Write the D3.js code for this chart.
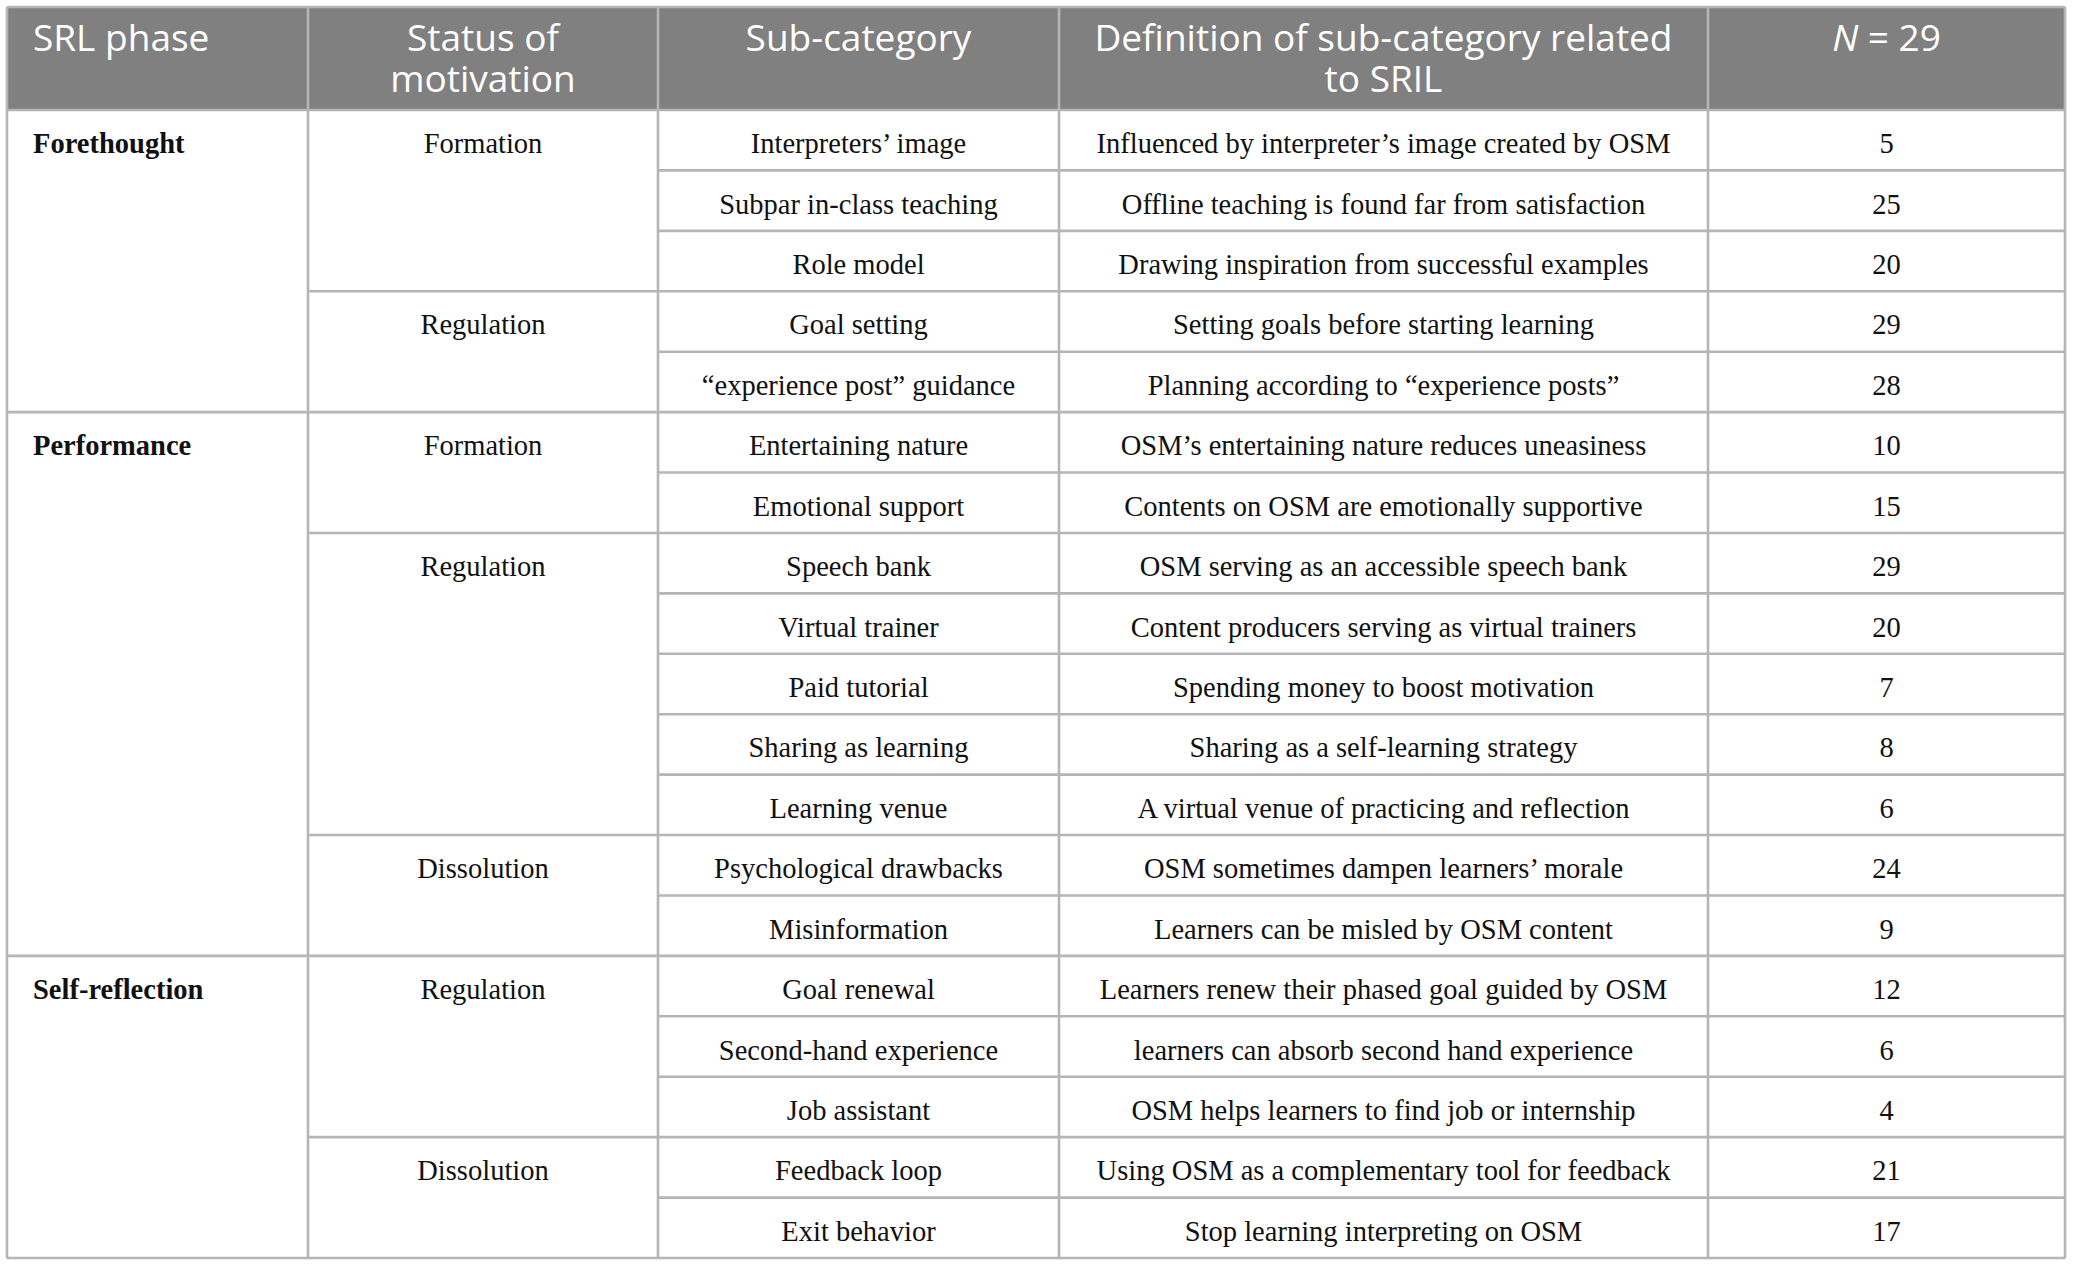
<!DOCTYPE html>
<html>
<head>
<meta charset="utf-8">
<script src="https://cdn.jsdelivr.net/npm/d3@7"></script>
<style>
  html, body { margin: 0; padding: 0; background: #ffffff; }
  svg { display: block; }
</style>
</head>
<body>
<svg id="chart" width="2073" height="1266"></svg>
<script>
// ---------- data ----------
const headers = ["SRL phase", "Status of\nmotivation", "Sub-category", "Definition of sub-category related\nto SRIL", "N = 29"];

const phaseLabels = ["Forethought", "Performance", "Self-reflection"];
const phaseRows   = [5, 9, 5];

const statusLabels = ["Formation", "Regulation", "Formation", "Regulation", "Dissolution", "Regulation", "Dissolution"];
const statusRows   = [3, 2, 2, 5, 2, 3, 2];

const subCategories = [
  "Interpreters’ image", "Subpar in-class teaching", "Role model", "Goal setting",
  "“experience post” guidance", "Entertaining nature", "Emotional support", "Speech bank",
  "Virtual trainer", "Paid tutorial", "Sharing as learning", "Learning venue",
  "Psychological drawbacks", "Misinformation", "Goal renewal", "Second-hand experience",
  "Job assistant", "Feedback loop", "Exit behavior"
];

const definitions = [
  "Influenced by interpreter’s image created by OSM",
  "Offline teaching is found far from satisfaction",
  "Drawing inspiration from successful examples",
  "Setting goals before starting learning",
  "Planning according to “experience posts”",
  "OSM’s entertaining nature reduces uneasiness",
  "Contents on OSM are emotionally supportive",
  "OSM serving as an accessible speech bank",
  "Content producers serving as virtual trainers",
  "Spending money to boost motivation",
  "Sharing as a self-learning strategy",
  "A virtual venue of practicing and reflection",
  "OSM sometimes dampen learners’ morale",
  "Learners can be misled by OSM content",
  "Learners renew their phased goal guided by OSM",
  "learners can absorb second hand experience",
  "OSM helps learners to find job or internship",
  "Using OSM as a complementary tool for feedback",
  "Stop learning interpreting on OSM"
];

const counts = [5, 25, 20, 29, 28, 10, 15, 29, 20, 7, 8, 6, 24, 9, 12, 6, 4, 21, 17];

// ---------- layout ----------
const W = 2073, H = 1266;
const tLeft = 7, tRight = 2065, tTop = 7, headerBottom = 110, tBottom = 1258;
const colFractions = [0, 301, 651, 1052, 1701, 2058]; // relative column edges
const xCol = d3.scaleLinear().domain([0, 2058]).range([tLeft, tRight]);
const colEdges = colFractions.map(xCol);

const rowIdx = d3.range(subCategories.length);
const yRow = d3.scaleBand().domain(rowIdx).range([headerBottom, tBottom]).padding(0);

const lineColor = "#b5b5b5";
const headerFill = "#808080";
const serif = "'Liberation Serif', 'Times New Roman', serif";
const sans = "'Open Sans', 'Noto Sans', sans-serif";
const bodySize = 28.5;
const baseOff = 13;

const svg = d3.select("#chart");
svg.append("rect").attr("width", W).attr("height", H).attr("fill", "#fff");

// header background
svg.append("rect")
  .attr("x", tLeft).attr("y", tTop)
  .attr("width", tRight - tLeft).attr("height", headerBottom - tTop)
  .attr("fill", headerFill);

// header text (one text element per line)
const hdr = svg.append("g").attr("font-family", sans).attr("font-size", 37).attr("fill", "#fff");
headers.forEach((h, i) => {
  const lines = h.split("\n");
  const x0 = colEdges[i], x1 = colEdges[i + 1];
  const anchor = i === 0 ? "start" : "middle";
  const x = i === 0 ? x0 + 26 : (x0 + x1) / 2;
  lines.forEach((ln, k) => {
    const t = hdr.append("text").attr("text-anchor", anchor)
      .attr("x", x).attr("y", tTop + 44 + k * 41);
    if (ln.startsWith("N = ")) {
      t.append("tspan").attr("font-style", "italic").text("N");
      t.append("tspan").text(ln.slice(1));
    } else {
      t.text(ln);
    }
  });
});

// group starts
const phaseStart = phaseRows.map((_, i) => d3.sum(phaseRows.slice(0, i)));
const statusStart = statusRows.map((_, i) => d3.sum(statusRows.slice(0, i)));

// grid lines
const grid = svg.append("g").attr("stroke", lineColor).attr("stroke-width", 2.6).attr("fill", "none");
rowIdx.slice(1).forEach(r => {
  grid.append("line").attr("x1", colEdges[2]).attr("x2", tRight)
    .attr("y1", yRow(r)).attr("y2", yRow(r));
});
statusStart.slice(1).forEach(r => {
  grid.append("line").attr("x1", colEdges[1]).attr("x2", colEdges[2])
    .attr("y1", yRow(r)).attr("y2", yRow(r));
});
phaseStart.slice(1).forEach(r => {
  grid.append("line").attr("x1", tLeft).attr("x2", colEdges[1])
    .attr("y1", yRow(r)).attr("y2", yRow(r));
});
grid.append("line").attr("x1", tLeft).attr("x2", tRight).attr("y1", headerBottom).attr("y2", headerBottom);
colEdges.forEach(x => {
  grid.append("line").attr("x1", x).attr("x2", x).attr("y1", tTop).attr("y2", tBottom);
});
grid.append("line").attr("x1", tLeft).attr("x2", tRight).attr("y1", tTop).attr("y2", tTop);
grid.append("line").attr("x1", tLeft).attr("x2", tRight).attr("y1", tBottom).attr("y2", tBottom);

// body text
const body = svg.append("g").attr("font-family", serif).attr("font-size", bodySize).attr("fill", "#111");
const yText = r => yRow(r) + yRow.bandwidth() / 2 + baseOff;

phaseLabels.forEach((p, i) => {
  body.append("text").attr("x", colEdges[0] + 26).attr("y", yText(phaseStart[i]))
    .attr("font-weight", "bold").text(p);
});
statusLabels.forEach((s, i) => {
  body.append("text").attr("x", (colEdges[1] + colEdges[2]) / 2).attr("y", yText(statusStart[i]))
    .attr("text-anchor", "middle").text(s);
});
body.selectAll("text.sub").data(subCategories).join("text").attr("class", "sub")
  .attr("x", (colEdges[2] + colEdges[3]) / 2).attr("y", (d, i) => yText(i))
  .attr("text-anchor", "middle").text(d => d);
body.selectAll("text.def").data(definitions).join("text").attr("class", "def")
  .attr("x", (colEdges[3] + colEdges[4]) / 2).attr("y", (d, i) => yText(i))
  .attr("text-anchor", "middle").text(d => d);
body.selectAll("text.num").data(counts).join("text").attr("class", "num")
  .attr("x", (colEdges[4] + colEdges[5]) / 2).attr("y", (d, i) => yText(i))
  .attr("text-anchor", "middle").text(d => d);
</script>
</body>
</html>
